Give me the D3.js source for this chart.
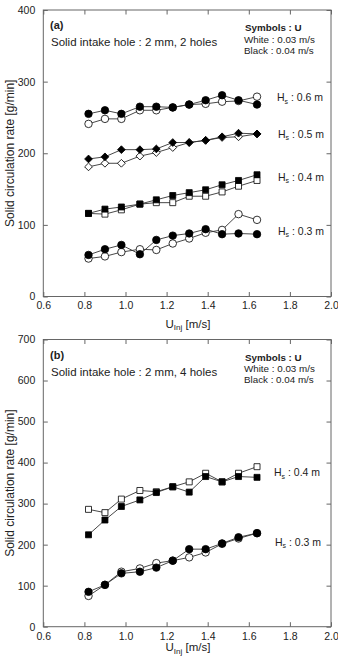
<!DOCTYPE html>
<html>
<head>
<meta charset="utf-8">
<script src="https://cdn.jsdelivr.net/npm/d3@7"></script>
<style>
  html, body { margin: 0; padding: 0; background: #fff; }
  svg { display: block; font-family: "Liberation Sans", Arial, sans-serif; }
</style>
</head>
<body>
<svg id="chart" width="338" height="657"></svg>
<script>
// ---- Data ----
const uInj = [0.82, 0.90, 0.98, 1.07, 1.15, 1.23, 1.31, 1.39, 1.47, 1.55, 1.64];
const xTicks = [0.6, 0.8, 1.0, 1.2, 1.4, 1.6, 1.8, 2.0];
const yTicksA = [0, 100, 200, 300, 400];
const yTicksB = [0, 100, 200, 300, 400, 500, 600, 700];

// Panel (a): 2 holes
const a06White = [241, 248, 248, 260, 260, 264, 268, 269, 272, 273, 279];
const a06Black = [255, 260, 255, 265, 265, 264, 268, 274, 281, 274, 268];
const a05White = [181, 186, 186, 196, 201, 208, 215, 218, 222, 223, 227];
const a05Black = [192, 195, 205, 205, 206, 215, 215, 218, 223, 228, 227];
const a04White = [116, 115, 121, 129, 131, 131, 140, 140, 146, 154, 162];
const a04Black = [116, 122, 125, 129, 135, 141, 145, 149, 156, 162, 170];
const a03White = [53, 56, 62, 66, 65, 74, 81, 89, 93, 115, 107];
const a03Black = [58, 66, 72, 59, 79, 85, 88, 94, 87, 88, 87];

// Panel (b): 4 holes
const b04White = [286, 278, 311, 332, 329, 341, 353, 374, 353, 374, 390];
const b04Black = [224, 260, 293, 309, 327, 341, 328, 366, 353, 366, 364];
const b03White = [75, 102, 134, 142, 155, 161, 169, 181, 202, 215, 228];
const b03Black = [85, 102, 130, 134, 144, 161, 189, 189, 203, 218, 228];

const textColor = "#222";
const axisColor = "#666";

const svg = d3.select("#chart");

function drawPanel(cfg) {
  const left = 43.3, right = 331;
  const x = d3.scaleLinear().domain([0.6, 2.0]).range([left, right]);
  const y = d3.scaleLinear().domain([0, cfg.yMax]).range([cfg.bottom, cfg.top]);
  const g = svg.append("g");

  g.append("rect")
    .attr("x", left).attr("y", cfg.top)
    .attr("width", right - left).attr("height", cfg.bottom - cfg.top)
    .attr("fill", "none").attr("stroke", axisColor).attr("stroke-width", 1);

  const tl = 4.5;
  const xb = g.append("g").attr("transform", `translate(0,${cfg.bottom})`)
    .call(d3.axisBottom(x).tickValues(xTicks).tickSize(-tl).tickPadding(5.5).tickFormat(d3.format(".1f")));
  const xt = g.append("g").attr("transform", `translate(0,${cfg.top})`)
    .call(d3.axisTop(x).tickValues(xTicks).tickSize(-tl).tickFormat(""));
  const yl = g.append("g").attr("transform", `translate(${left},0)`)
    .call(d3.axisLeft(y).tickValues(cfg.yTicks).tickSize(-tl).tickPadding(8).tickFormat(d3.format("d")));
  const yr = g.append("g").attr("transform", `translate(${right},0)`)
    .call(d3.axisRight(y).tickValues(cfg.yTicks).tickSize(-tl).tickFormat(""));
  [xb, xt, yl, yr].forEach(a => {
    a.select(".domain").remove();
    a.selectAll(".tick line").attr("stroke", axisColor).attr("stroke-width", 1);
    a.selectAll(".tick text").attr("fill", textColor).style("font-size", "10.5px")
      .style("font-family", "'Liberation Sans', Arial, sans-serif");
  });

  const xtitle = g.append("text")
    .attr("x", 188).attr("y", cfg.bottom + cfg.xTitleOffset)
    .attr("text-anchor", "middle").attr("fill", textColor)
    .style("font-size", "11.5px");
  xtitle.append("tspan").text("U");
  xtitle.append("tspan").attr("dy", 2.5).style("font-size", "8px").text("Inj");
  xtitle.append("tspan").attr("dy", -2.5).text(" [m/s]");

  g.append("text")
    .attr("transform", `translate(14,${(cfg.top + cfg.bottom) / 2}) rotate(-90)`)
    .attr("text-anchor", "middle").attr("fill", textColor)
    .style("font-size", "12px")
    .text("Solid circulation rate [g/min]");

  g.append("text").attr("x", 50).attr("y", cfg.top + 19)
    .attr("fill", textColor).style("font-size", "11px").style("font-weight", "bold")
    .text(cfg.label);
  g.append("text").attr("x", 51).attr("y", cfg.top + 36)
    .attr("fill", textColor).style("font-size", "11.5px")
    .text(cfg.title);

  g.append("text").attr("x", 245).attr("y", cfg.top + 21)
    .attr("fill", textColor).style("font-size", "9.8px").style("font-weight", "bold")
    .text("Symbols : U");
  g.append("text").attr("x", 244).attr("y", cfg.top + 32.5)
    .attr("fill", textColor).style("font-size", "9.8px")
    .text("White : 0.03 m/s");
  g.append("text").attr("x", 244).attr("y", cfg.top + 43.5)
    .attr("fill", textColor).style("font-size", "9.8px")
    .text("Black : 0.04 m/s");

  const line = d3.line().x((d, i) => x(uInj[i])).y(d => y(d));

  cfg.series.forEach(s => {
    [s.white, s.black].forEach((vals, k) => {
      const fill = k === 0 ? "#fff" : "#000";
      g.append("path").datum(vals).attr("d", line)
        .attr("fill", "none").attr("stroke", "#333").attr("stroke-width", 0.9);
      const isDiamond = s.shape === "diamond";
      const sym = d3.symbol().type(isDiamond ? d3.symbolSquare : s.shape).size(s.size);
      g.selectAll(null).data(vals).enter().append("path")
        .attr("d", sym)
        .attr("transform", (d, i) => `translate(${x(uInj[i])},${y(d)})` + (isDiamond ? " rotate(45)" : ""))
        .attr("fill", fill).attr("stroke", "#000").attr("stroke-width", 0.8);
    });
    const lab = g.append("text").attr("x", s.lx).attr("y", y(s.ly) + 4)
      .attr("fill", textColor).style("font-size", "10.5px");
    lab.append("tspan").text("H");
    lab.append("tspan").attr("dy", 2.5).style("font-size", "7px").text("s");
    lab.append("tspan").attr("dy", -2.5).text(" : " + s.text);
  });
}

drawPanel({
  top: 10, bottom: 296.5, yMax: 400, yTicks: yTicksA, xTitleOffset: 31,
  label: "(a)", title: "Solid intake hole : 2 mm, 2 holes",
  series: [
    { white: a06White, black: a06Black, shape: d3.symbolCircle, size: 44, lx: 277, ly: 278, text: "0.6 m" },
    { white: a05White, black: a05Black, shape: "diamond", size: 30, lx: 278, ly: 227, text: "0.5 m" },
    { white: a04White, black: a04Black, shape: d3.symbolSquare, size: 36, lx: 278, ly: 167, text: "0.4 m" },
    { white: a03White, black: a03Black, shape: d3.symbolCircle, size: 44, lx: 278, ly: 92, text: "0.3 m" }
  ]
});

drawPanel({
  top: 339.5, bottom: 626.7, yMax: 700, yTicks: yTicksB, xTitleOffset: 24.5,
  label: "(b)", title: "Solid intake hole : 2 mm, 4 holes",
  series: [
    { white: b04White, black: b04Black, shape: d3.symbolSquare, size: 36, lx: 274, ly: 376, text: "0.4 m" },
    { white: b03White, black: b03Black, shape: d3.symbolCircle, size: 44, lx: 275, ly: 207, text: "0.3 m" }
  ]
});
</script>
</body>
</html>
